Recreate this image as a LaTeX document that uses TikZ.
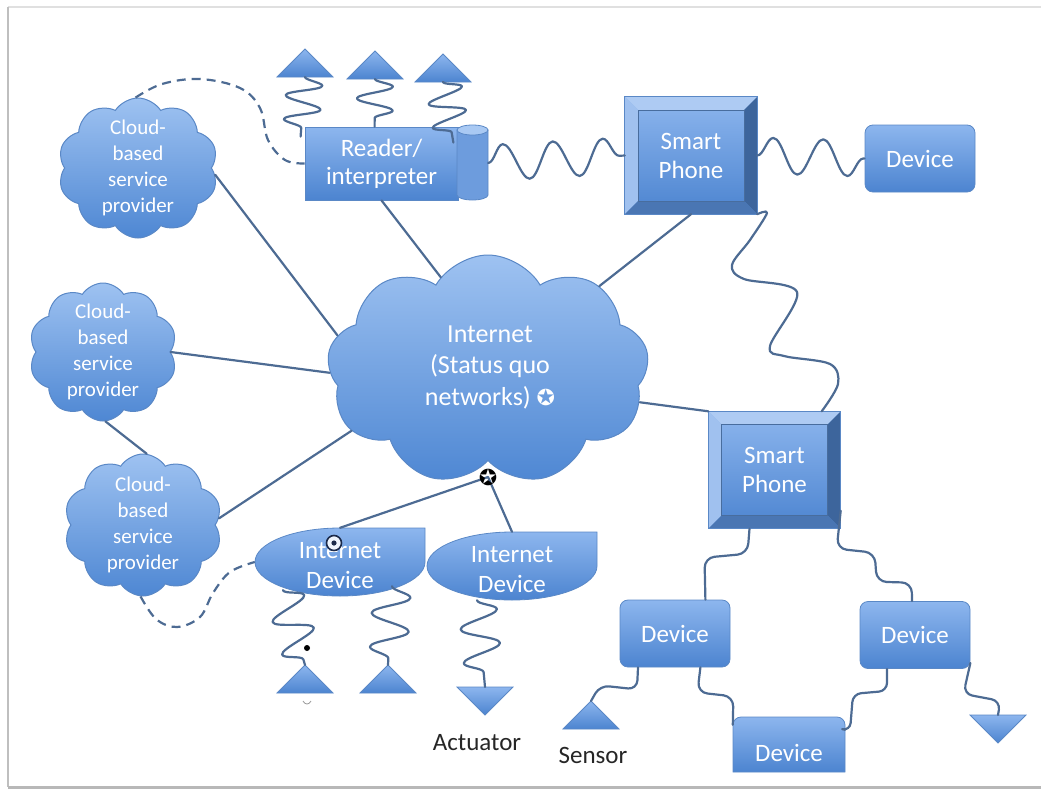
\documentclass[tikz,border=0pt]{standalone}
\usepackage{fontspec}
\setmainfont{Carlito}
\newfontfamily\dejavu{DejaVu Sans}
\usetikzlibrary{shapes.symbols,shapes.geometric,decorations.pathmorphing,calc}
\definecolor{ctop}{HTML}{9EC2F1}
\definecolor{cbot}{HTML}{4E87D3}
\definecolor{btop}{HTML}{8DB6EE}
\definecolor{bbot}{HTML}{4C84D0}
\definecolor{edgec}{HTML}{5A88C6}
\definecolor{wirec}{HTML}{4D6B93}
\definecolor{bevT}{HTML}{AECBF3}
\definecolor{bevL}{HTML}{A0C1EF}
\definecolor{bevR}{HTML}{3D659C}
\definecolor{bevB}{HTML}{4A76B3}
\definecolor{cylbody}{HTML}{6D9CDD}
\definecolor{cyltop}{HTML}{A9C9F3}
\definecolor{darkring}{HTML}{1B2A4A}
\tikzset{
  cloudn/.style={cloud, cloud puffs=10, cloud puff arc=115, cloud ignores aspect,
    draw=edgec, line width=1pt, top color=ctop, bottom color=cbot, inner sep=0pt},
  cloudtxt/.style={text=white, align=center, font=\fontsize{21}{26}\selectfont},
  bigtxt/.style={text=white, align=center, font=\fontsize{25}{30}\selectfont},
  devbox/.style={rectangle, rounded corners=8pt, draw=edgec, line width=0.8pt, top color=btop,
    bottom color=bbot, text=white, font=\fontsize{25}{28}\selectfont,
    minimum width=110pt, minimum height=67pt, inner sep=0pt},
  devfill/.style={draw=edgec, line width=0.8pt, top color=btop, bottom color=bbot},
  readerbox/.style={rectangle, draw=edgec, line width=0.8pt, top color=btop, bottom color=bbot,
    text=white, align=center, font=\fontsize{25}{28}\selectfont,
    minimum width=153pt, minimum height=73pt, inner sep=0pt},
  phone/.style={rectangle, top color=btop, bottom color=bbot, text=white, align=center,
    font=\fontsize{25}{29}\selectfont, minimum width=132pt, minimum height=117pt, inner sep=0pt},
  hold/.style={rectangle, inner sep=0pt},
  wire/.style={draw=wirec, line width=2.2pt, line join=round, line cap=round},
  dashwire/.style={draw=wirec, line width=2.2pt, dash pattern=on 9pt off 6pt},
  wave/.style={wire, decorate, decoration={snake, amplitude=18pt, segment length=50pt}},
  coil/.style={wire, decorate, decoration={snake, amplitude=18pt, segment length=24pt}},
  coilb/.style={wire, decorate, decoration={snake, amplitude=19pt, segment length=34pt}},
  trifill/.style={draw=edgec, line width=0.8pt, top color=btop, bottom color=bbot},
  uptri/.pic={\path[trifill] (-28,14) -- (0,-14) -- (28,14) -- cycle;
    \coordinate (-apex) at (0,-14); \coordinate (-base) at (0,14);},
  dntri/.pic={\path[trifill] (-28,-14) -- (28,-14) -- (0,14) -- cycle;
    \coordinate (-top) at (0,-14);},
  lbl/.style={text=black!85, font=\fontsize{25}{28}\selectfont}
}
\newcommand\bevelbox[4]{%
  \node[phone] (#1) at (#2,#3) {#4};
  \fill[bevT] (#1.north west) -- (#1.north east) -- ([shift={(-13pt,-13pt)}]#1.north east) -- ([shift={(13pt,-13pt)}]#1.north west) -- cycle;
  \fill[bevL] (#1.north west) -- ([shift={(13pt,-13pt)}]#1.north west) -- ([shift={(13pt,13pt)}]#1.south west) -- (#1.south west) -- cycle;
  \fill[bevR] (#1.north east) -- ([shift={(-13pt,-13pt)}]#1.north east) -- ([shift={(-13pt,13pt)}]#1.south east) -- (#1.south east) -- cycle;
  \fill[bevB] (#1.south west) -- ([shift={(13pt,13pt)}]#1.south west) -- ([shift={(-13pt,13pt)}]#1.south east) -- (#1.south east) -- cycle;
  \draw[edgec, line width=0.8pt] (#1.north west) rectangle (#1.south east);
  \draw[edgec!80!black, line width=0.5pt] ([shift={(13pt,-13pt)}]#1.north west) rectangle ([shift={(-13pt,13pt)}]#1.south east);
}
\newcommand\idshape[2]{%
  \path[devfill] (#1,#2-34) -- (#1+85,#2-34) -- (#1+85,#2)
    arc[start angle=0, end angle=270, x radius=85, y radius=34] -- cycle;}
\begin{document}
\begin{tikzpicture}[x=1pt, y=-1pt]
\useasboundingbox (0,0) rectangle (1041,790);
% frame
\draw[black!12, line width=1.5pt] (8,7) -- (1041,7);
\draw[black!25, line width=2.5pt] (8,7) -- (8,787);
\draw[black!28, line width=3pt] (8,787) -- (1041,787);

% clouds
\node[cloudn, minimum width=160pt, minimum height=140pt] (c1) at (138,168) {};
\node[cloudtxt] at (c1) {Cloud-\\based\\service\\provider};
\node[cloudn, minimum width=148pt, minimum height=138pt] (c2) at (103,352) {};
\node[cloudtxt] at (c2) {Cloud-\\based\\service\\provider};
\node[cloudn, minimum width=158pt, minimum height=142pt] (c3) at (143,525) {};
\node[cloudtxt] at (c3) {Cloud-\\based\\service\\provider};
\node[cloudn, cloud puffs=9, cloud puff arc=120, minimum width=322pt, minimum height=230pt] (inet) at (488,370) {};

% reader and cylinder
\node[readerbox] (reader) at (381.5,163.5) {Reader/\\interpreter};
\node[hold, minimum width=31pt, minimum height=73pt] (cyl) at (472.5,163) {};
\path[fill=cylbody, draw=edgec, line width=0.8pt] (457,130) -- (457,195)
  arc[start angle=180, end angle=0, x radius=15.5, y radius=5] -- (488,130) -- cycle;
\draw[fill=cyltop, draw=edgec, line width=0.8pt] (472.5,130) ellipse [x radius=15.5, y radius=5];

% smart phones
\bevelbox{sp1}{691}{155.5}{Smart\\Phone}
\bevelbox{sp2}{774.5}{470}{Smart\\Phone}

% devices
\node[devbox] (dev1) at (920,158.5) {Device};
\node[devbox] (dl) at (675,633.5) {Device};
\node[devbox] (dr) at (915,635) {Device};
\node[hold, minimum width=112pt, minimum height=55pt] (db) at (789,744.5) {};
\path[devfill] (733,772) -- (733,725) arc[start angle=180, end angle=270, radius=8]
  -- (837,717) arc[start angle=270, end angle=360, radius=8] -- (845,772) -- cycle;
\node[text=white, font=\fontsize{25}{28}\selectfont] at (789,753) {Device};

% internet devices
\idshape{340}{562}
\node[hold, minimum width=170pt, minimum height=68pt] (id1) at (340,562) {};
\idshape{512}{566}
\node[hold, minimum width=170pt, minimum height=68pt] (id2) at (512,566) {};

% top coils (behind the top triangles)
\coordinate (r1) at ([shift={(-4pt,-10pt)}]reader.north west);
\coordinate (r2) at ([xshift=70pt]reader.north west);
\coordinate (r3) at ([shift={(-5pt,-16pt)}]reader.north east);

% triangles
\pic (t1) at (305,63) {uptri};
\pic (t2) at (375,65) {uptri};
\pic (t3) at (443,68) {uptri};
\pic (t4) at (305,679) {uptri};
\pic (t5) at (388,679) {uptri};
\pic (t6) at (485,701) {dntri};
\pic (ts) at (591,715) {uptri};
\pic (tb) at (998,729) {dntri};

\draw[coil] (t1-base) -- (r1);
\draw[coil] (t2-base) -- (r2);
\draw[coil] (t3-base) -- (r3);

% straight connectors
\coordinate (bs) at (488,477);
\draw[wire] (c1.-5) -- (inet.167);
\draw[wire] (reader.south) -- (inet.117);
\draw[wire] (sp1.south) -- (inet.37);
\draw[wire] (c2.east) -- (inet.181);
\draw[wire] (c2.272) -- (c3.87);
\draw[wire] (c3.5) -- (inet.204);
\draw[wire] (inet.348) -- (sp2.north west);
\draw[wire] (bs) -- (id1.north);
\draw[wire] (bs) -- (id2.north);

% waves
\draw[wave] (cyl.east) -- (sp1.west);
\draw[wave] (sp1.east) -- (dev1.west);
\draw[wire] plot[smooth, tension=0.55] coordinates {(sp1.south east) (767,213) (750,240) (732,265) (744,279) (797,292) (770,346) (784,356) (830,364) (838,384) ([xshift=-19pt]sp2.north east)};

% bottom coils
\draw[coilb] ($(id1.south)+(-57,-6)$) -- (t4-apex);
\draw[coilb] ($(id1.south)+(52,-10)$) -- (t5-apex);
\draw[coilb] ($(id2.south)+(-35,0)$) -- (t6-top);

% step connectors
\draw[wire, rounded corners=10pt] ([xshift=-25pt]sp2.south) -- ++(-2,25) -- ++(-43,4) -- ([xshift=-25pt]dl.north east);
\draw[wire, rounded corners=10pt] ([yshift=18pt]sp2.south east) -- ++(-4,38) -- ++(38,4) -- ++(2,29) -- ++(35,1) -- ([xshift=-3pt]dr.north);
\draw[wire, rounded corners=10pt] ([xshift=-30pt]dl.south east) -- ++(-3,25) -- ++(36,4) -- ([yshift=-8pt]db.north west);
\draw[wire, rounded corners=8pt] ([xshift=-28pt]dr.south) -- ++(0,22) -- ++(-34,3) -- ++(-3,37) -- ([yshift=-13pt]db.north east);
\draw[wire, rounded corners=9pt] ([xshift=-37pt]dl.south) -- ++(-1,22) -- ++(-37,-4) -- (ts-apex);
\draw[wire, rounded corners=9pt] ([yshift=6pt]dr.south east) -- ++(-7,31) -- ++(37,7) -- (tb-top);

% dashed
\draw[dashwire] plot[smooth, tension=0.6] coordinates {(c1.92) (162,84) (200,79) (240,88) (260,108) (268,140) (285,160) (reader.west)};
\draw[dashwire] plot[smooth, tension=0.6] coordinates {(c3.268) (156,619) (177,627) (200,617) (213,593) (230,572) (id1.west)};

% texts
\node[bigtxt, font=\fontsize{26}{31.5}\selectfont] at (490,367) {Internet\\(Status quo\\networks) {\dejavu\fontsize{22}{22}\selectfont ✪}};
\node[bigtxt] at (340,566) {Internet\\Device};
\node[bigtxt] at (512,570) {Internet\\Device};
\node[text=black, font=\dejavu\fontsize{22}{22}\selectfont] (star) at (bs) {✪};
\node[circle, draw=darkring, fill=white!85!btop, line width=1.6pt, minimum size=15pt, inner sep=0pt] (odot) at (334,543) {};
\fill[darkring] (odot) circle[radius=2.6];
\fill[black] (307,648) circle[radius=3];
\draw[black!40, line width=0.8pt] (303,701) .. controls (305,705) and (309,705) .. (311,701);
\node[lbl] (act) at (477,743) {Actuator};
\node[lbl] (sen) at (593,755) {Sensor};
\end{tikzpicture}
\end{document}
